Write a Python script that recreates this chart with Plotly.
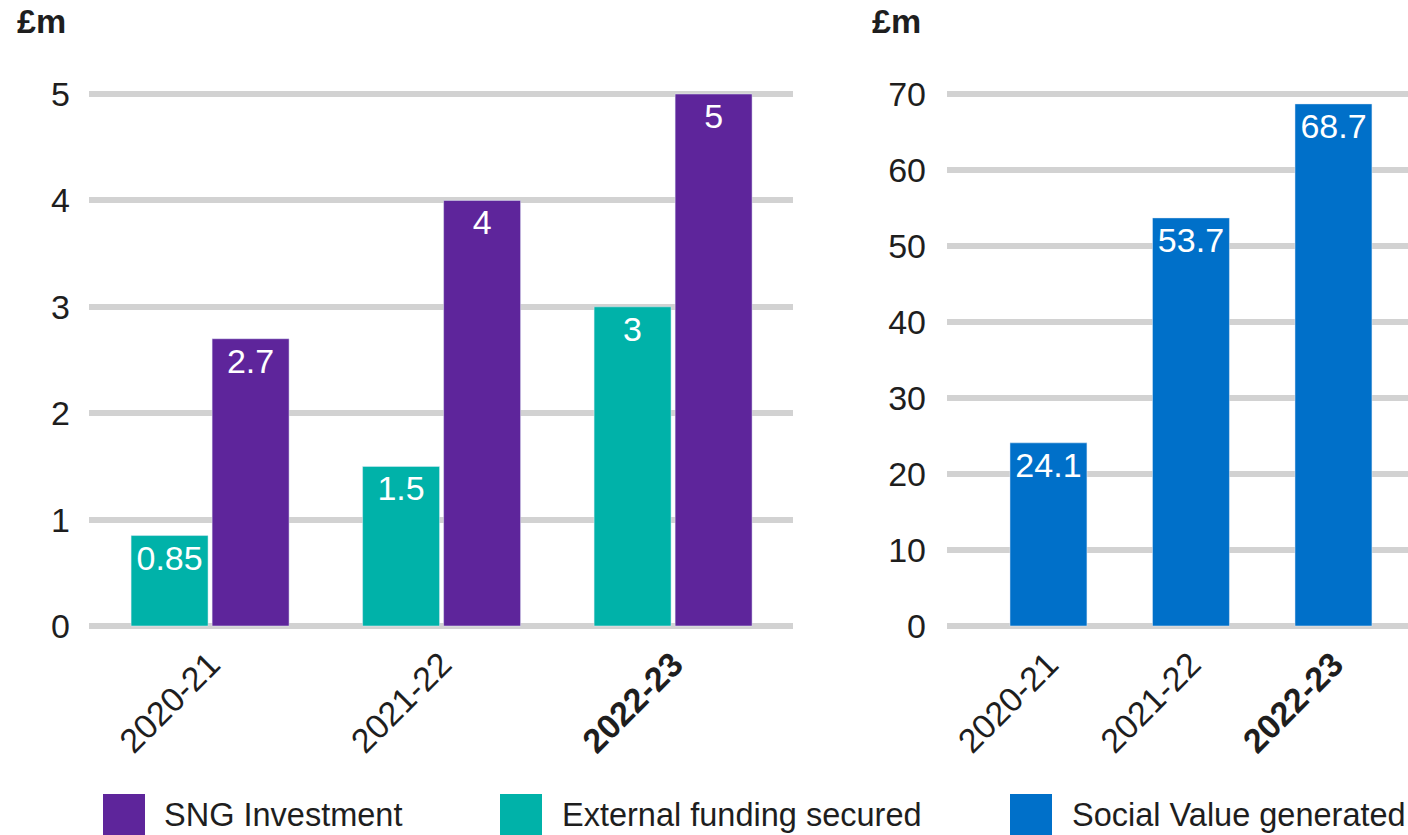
import plotly.graph_objects as go

# ---- data ----
years = ["2020-21", "2021-22", "2022-23"]
year_ticktext = ["2020-21", "2021-22", "<b>2022-23</b>"]
sng_investment = [2.7, 4, 5]
external_funding = [0.85, 1.5, 3]
social_value = [24.1, 53.7, 68.7]
sng_labels = ["2.7", "4", "5"]
ext_labels = ["0.85", "1.5", "3"]
sv_labels = ["24.1", "53.7", "68.7"]
series_names = ["SNG Investment", "External funding secured", "Social Value generated"]
unit_label = "£m"

# ---- style ----
W, H = 1408, 835
PURPLE = "#5e259b"
TEAL = "#00b2a9"
BLUE = "#0070c9"
GRID = "#d2d2d2"
TXT = "#1e1e1e"
FONT = "Liberation Sans, Arial, sans-serif"


def px_x(x):
    return x / W


def px_y(y):
    return 1 - y / H


fig = go.Figure()

lbl_font = dict(color="white", size=34, family=FONT)
fig.add_trace(go.Bar(
    x=years, y=external_funding, name=series_names[1], marker_color=TEAL,
    text=ext_labels, textposition="inside", insidetextanchor="end",
    textfont=lbl_font, constraintext="none",
    xaxis="x", yaxis="y", showlegend=False, hoverinfo="x+y",
))
fig.add_trace(go.Bar(
    x=years, y=sng_investment, name=series_names[0], marker_color=PURPLE,
    text=sng_labels, textposition="inside", insidetextanchor="end",
    textfont=lbl_font, constraintext="none",
    xaxis="x", yaxis="y", showlegend=False, hoverinfo="x+y",
))
fig.add_trace(go.Bar(
    x=years, y=social_value, name=series_names[2], marker_color=BLUE,
    width=0.54,
    text=sv_labels, textposition="inside", insidetextanchor="end",
    textfont=lbl_font, constraintext="none",
    xaxis="x2", yaxis="y2", showlegend=False, hoverinfo="x+y",
))

# value 0 at page y=626, top tick at page y=94; extend range slightly so edge gridlines show
Y0, YTOP = 626, 94
EXT = 0.02
span_px = Y0 - YTOP
ydom = [px_y(Y0 + EXT * span_px), px_y(YTOP - EXT * span_px)]
tickfont = dict(family=FONT, size=34, color=TXT)

fig.update_layout(
    width=W, height=H,
    margin=dict(l=0, r=0, t=0, b=0),
    paper_bgcolor="white", plot_bgcolor="white",
    barmode="group", bargap=0.30, bargroupgap=0.05,
    showlegend=False,
    font=dict(family=FONT, color=TXT),
    xaxis=dict(
        domain=[px_x(89), px_x(793)], anchor="y",
        range=[-0.523, 2.518], tickmode="array", tickvals=years, ticktext=year_ticktext,
        tickangle=-45, tickfont=tickfont, showgrid=False, zeroline=False,
        showline=False, ticks="", automargin=False,
    ),
    yaxis=dict(
        domain=ydom, anchor="x", range=[-5 * EXT, 5 * (1 + EXT)], dtick=1, tick0=0,
        showgrid=True, gridcolor=GRID, gridwidth=6, zeroline=False,
        showline=False, ticks="", tickfont=tickfont, ticklabelstandoff=18,
        automargin=False,
    ),
    xaxis2=dict(
        domain=[px_x(947), 1.0], anchor="y2",
        range=[-0.712, 2.523], tickmode="array", tickvals=years,
        ticktext=year_ticktext,
        tickangle=-45, tickfont=tickfont, showgrid=False, zeroline=False,
        showline=False, ticks="", automargin=False,
    ),
    yaxis2=dict(
        domain=ydom, anchor="x2", range=[-70 * EXT, 70 * (1 + EXT)], dtick=10, tick0=0,
        showgrid=True, gridcolor=GRID, gridwidth=6, zeroline=False,
        showline=False, ticks="", tickfont=tickfont, ticklabelstandoff=20,
        automargin=False,
    ),
)

# unit labels
for xl in (15, 870):
    fig.add_annotation(
        x=px_x(xl), y=1.0, xref="paper", yref="paper",
        xanchor="left", yanchor="top", showarrow=False,
        text="<b>" + unit_label + "</b>", font=dict(family=FONT, size=34, color=TXT),
    )

# custom legend (large swatches)
legend_items = [
    (series_names[0], PURPLE, 103, 162),
    (series_names[1], TEAL, 500, 560),
    (series_names[2], BLUE, 1010, 1070),
]
for name, col, sx, tx in legend_items:
    fig.add_shape(
        type="rect", xref="paper", yref="paper",
        x0=px_x(sx), x1=px_x(sx + 42), y0=px_y(836), y1=px_y(794),
        fillcolor=col, line=dict(width=0),
    )
    fig.add_annotation(
        x=px_x(tx), y=px_y(835), xref="paper", yref="paper",
        xanchor="left", yanchor="bottom", showarrow=False,
        text=name, font=dict(family=FONT, size=32.5, color=TXT),
    )

fig.write_html(
    "out.html",
    config={"displayModeBar": False},
    post_script="document.body.style.margin='0';document.body.style.overflow='hidden';",
)
